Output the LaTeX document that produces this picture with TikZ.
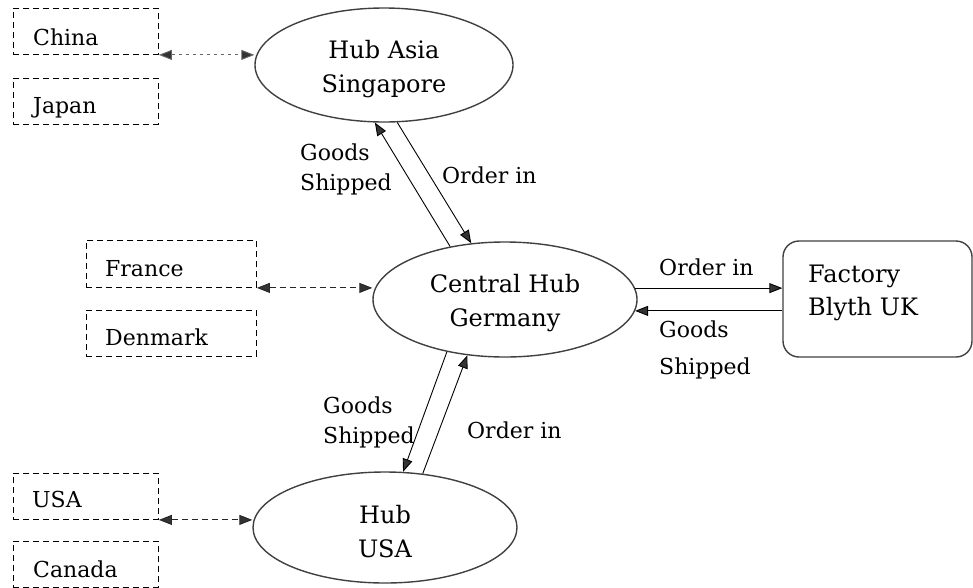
\documentclass[tikz,border=0pt]{standalone}
\usepackage{fontspec}
\setmainfont{DejaVu Serif}
\usetikzlibrary{arrows.meta,shapes.geometric}
\newcommand{\hubstrut}{\rule{0pt}{26pt}}
\tikzset{
  hubnode/.style={ellipse, draw=black!75, line width=1.4pt, inner sep=0pt, align=center,
    font=\fontsize{24}{34}\selectfont},
  facbox/.style={rectangle, rounded corners=16pt, draw=black!75, line width=1.4pt,
    minimum width=189pt, minimum height=116pt, inner sep=0pt},
  cbox/.style={rectangle, draw=black, line width=0.9pt, dash pattern=on 6pt off 4pt,
    minimum height=46pt, inner sep=0pt, anchor=north west},
  boxtext/.style={anchor=base west, inner sep=0pt, font=\fontsize{22}{26}\selectfont},
  bigtext/.style={anchor=north west, inner sep=0pt, align=left, font=\fontsize{24}{33}\selectfont},
  flowlbl/.style={anchor=north west, inner sep=0pt, align=left},
  ordlbl/.style={anchor=base west, inner sep=0pt, font=\fontsize{22}{26}\selectfont},
  tipshape/.tip={Triangle[length=13pt,width=10pt]},
  flow/.style={draw=black, line width=0.9pt, -{tipshape[fill=black!80]}},
  dasharrow/.style={draw=black!85, line width=0.9pt, dash pattern=on 6pt off 4pt,
    {tipshape[fill=black!80]}-{tipshape[fill=black!80]}},
  dotarrow/.style={dasharrow, dash pattern=on 3pt off 4pt, draw=black!60}
}
\begin{document}
\begin{tikzpicture}[x=1pt,y=-1pt]
\useasboundingbox (0,0) rectangle (973,587);

% country boxes
\node[cbox, minimum width=145pt] (china) at (13,8) {};
\node[cbox, minimum width=145pt] (japan) at (13,78) {};
\node[cbox, minimum width=170pt, minimum height=47pt] (france) at (86,240) {};
\node[cbox, minimum width=170pt] (denmark) at (86,310) {};
\node[cbox, minimum width=145pt] (usa) at (13,473) {};
\node[cbox, minimum width=145pt] (canada) at (13,541) {};

\node[boxtext] (chinat) at (33,45) {China};
\node[boxtext] (japant) at (33,113) {Japan};
\node[boxtext] (francet) at (105,276) {France};
\node[boxtext] (denmarkt) at (105,345) {Denmark};
\node[boxtext] (usat) at (32,507) {USA};
\node[boxtext] (canadat) at (33,577) {Canada};

% hubs
\node[hubnode, minimum width=258pt, minimum height=114pt] (ha) at (384,65) {\hubstrut Hub Asia\\Singapore};
\node[hubnode, minimum width=264pt, minimum height=115pt] (ch) at (505,299.5) {\hubstrut Central Hub\\Germany};
\node[hubnode, minimum width=264pt, minimum height=111pt] (hu) at (385,527.5) {\hubstrut Hub\\USA};

% factory
\node[facbox] (fac) at (877.5,299) {};
\node[bigtext] (fact) at (808,264.5) {Factory\\Blyth UK};

% dashed links
\draw[dotarrow] (china.south east) -- (china.south east -| ha.west);
\draw[dasharrow] (france.south east) -- (france.south east -| ch.west);
\draw[dasharrow] (usa.south east) -- (usa.south east -| hu.west);

% flows Asia - Central
\draw[flow] (ch.136.8) -- (ha.261.7);
\draw[flow] (ha.283.1) -- (ch.121.5);
% flows Central - USA
\draw[flow] (ch.222.5) -- (hu.72.8);
\draw[flow] (hu.55.3) -- (ch.236.3);
% flows Central - Factory
\draw[flow] (ch.5.5) -- (ch.5.5 -| fac.west);
\draw[flow] (fac.west |- ch.355.4) -- (ch.355.4);

% labels
\node[flowlbl, font=\fontsize{22}{30}\selectfont] (gs1) at (300,143.3) {Goods\\Shipped};
\node[ordlbl] (oi1) at (442,183.5) {Order in};
\node[flowlbl, font=\fontsize{22}{30}\selectfont] (gs2) at (323,396.3) {Goods\\Shipped};
\node[ordlbl] (oi2) at (467,438) {Order in};
\node[ordlbl] (oi3) at (659,275) {Order in};
\node[flowlbl, font=\fontsize{22}{37}\selectfont] (gs3) at (659,320.3) {Goods\\Shipped};
\end{tikzpicture}
\end{document}
